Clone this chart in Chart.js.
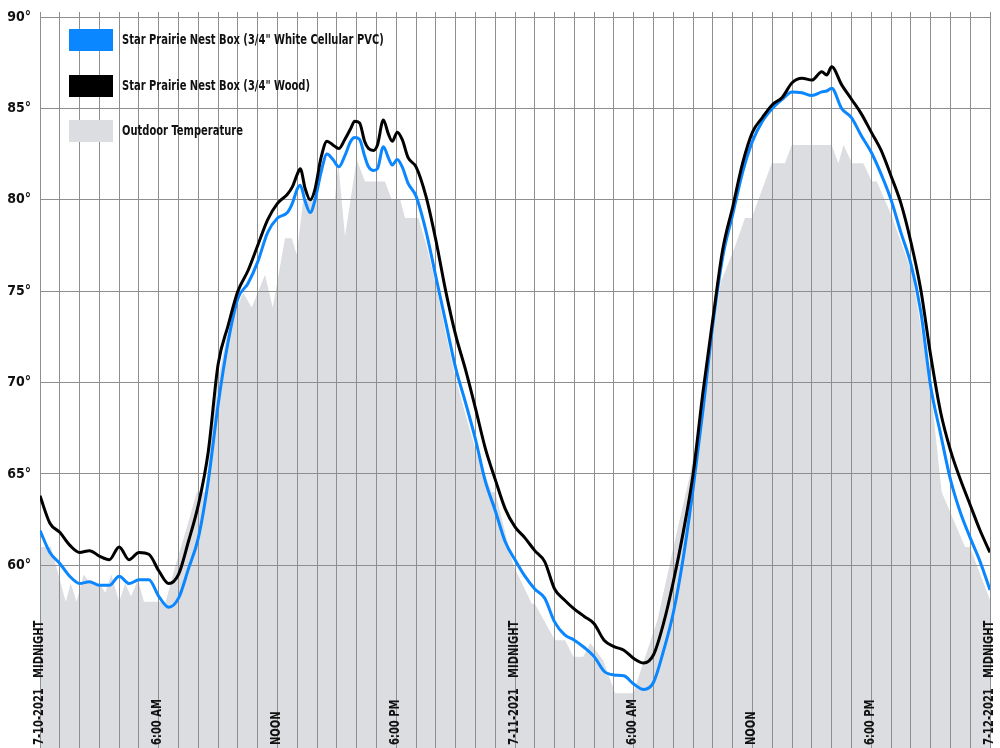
<!DOCTYPE html>
<html>
<head>
<meta charset="utf-8">
<script src="https://cdn.jsdelivr.net/npm/chart.js@4/dist/chart.umd.min.js"></script>
<style>
  html, body { margin: 0; padding: 0; background: #ffffff; }
  #wrap { width: 1000px; height: 748px; position: relative; }
</style>
</head>
<body>
<div id="wrap"><canvas id="c" width="1000" height="748"></canvas></div>
<script>
// ---- DATA ----
const seriesLabels = [
  'Star Prairie Nest Box (3/4" White Cellular PVC)',
  'Star Prairie Nest Box (3/4" Wood)',
  'Outdoor Temperature'
];
// hours since 7-10-2021 midnight (sensor readings)
const hours = [0,0.5,1,1.5,2,2.5,3,3.5,4,4.5,5,5.5,6,6.5,7,7.5,8,8.5,9,9.5,10,10.5,11,11.5,12,12.5,12.75,13,13.15,13.4,13.65,13.9,14.2,14.5,14.8,15.1,15.4,15.7,15.9,16.15,16.4,16.6,16.85,17.05,17.35,17.6,17.8,18.05,18.3,18.6,19,19.5,20,20.5,21,21.5,22,22.5,23,23.5,24,24.5,25,25.5,26,26.5,27,27.5,28,28.5,29,29.5,30,30.5,31,31.5,32,32.5,33,33.5,34,34.5,35,35.5,36,36.5,37,37.5,38,38.5,39,39.5,39.75,40,40.5,41,41.5,42,42.5,43,43.5,44,44.5,45,45.5,46,46.5,47,47.5,48];
const pvcTemps = [61.9,60.7,60.1,59.4,59.0,59.1,58.9,58.9,59.4,59.0,59.2,59.2,58.3,57.7,58.2,59.8,61.5,64.6,68.8,72.2,74.6,75.4,76.6,78.2,79.0,79.3,79.8,80.6,80.8,79.9,79.3,80.0,81.5,82.5,82.2,81.8,82.4,83.2,83.4,83.3,82.4,81.8,81.6,81.7,82.9,82.3,81.9,82.2,81.8,80.9,80.2,78.3,75.8,73.3,70.8,68.9,66.9,64.6,63.0,61.3,60.3,59.4,58.7,58.2,56.9,56.2,55.9,55.5,55.0,54.2,54.0,53.95,53.5,53.2,53.6,55.3,57.4,60.4,64.2,68.5,73.2,76.9,79.2,81.5,83.2,84.3,85.0,85.5,85.9,85.85,85.7,85.9,85.95,86.1,85.0,84.5,83.5,82.6,81.4,80.0,78.2,76.5,73.9,69.8,67.2,64.7,62.9,61.5,60.2,58.65];
const woodTemps = [63.8,62.3,61.8,61.1,60.7,60.8,60.5,60.3,61.0,60.3,60.7,60.6,59.7,59.0,59.5,61.3,63.3,66.2,71.0,73.1,75.0,76.1,77.5,78.9,79.8,80.3,80.7,81.4,81.7,80.6,80.0,80.6,82.3,83.2,83.0,82.8,83.3,83.9,84.3,84.2,83.2,82.8,82.7,83.0,84.37,83.6,83.2,83.7,83.3,82.3,81.8,80.2,77.8,75.0,72.6,70.7,68.6,66.4,64.7,63.1,62.1,61.5,60.8,60.2,58.7,58.1,57.6,57.2,56.8,55.9,55.55,55.35,54.9,54.65,55.1,56.8,59.1,61.8,65.0,69.5,73.5,77.3,79.6,82.0,83.7,84.5,85.2,85.6,86.4,86.65,86.55,87.0,86.83,87.28,86.3,85.5,84.7,83.7,82.7,81.3,79.8,77.7,75.1,71.5,68.4,66.3,64.7,63.3,61.9,60.7];
const outdoorHours = [0,0.55,1.3,1.55,1.85,2.2,2.55,3.0,3.3,3.6,4.0,4.3,4.6,4.95,5.25,6.35,6.85,7.4,7.92,8.34,8.93,9.43,9.94,10.27,10.7,11.37,11.76,12.38,12.72,12.97,13.3,14.9,15.07,15.41,16.0,16.42,17.43,17.77,18.2,18.44,19.12,19.5,20.04,20.5,21.0,21.56,22.07,22.82,23.0,23.92,24.85,25.0,26.02,26.53,26.95,27.45,27.8,28.45,29.06,29.98,30.49,31.2,32.09,32.85,33.35,33.9,34.4,35.1,35.62,35.96,36.97,37.64,37.98,40.0,40.34,40.6,41.03,41.6,42.03,42.28,43.04,44.05,44.97,45.56,46.15,46.74,46.99,48];
const outdoorTemps = [61,61,58,59,58,59.5,59,59,58.5,59.5,58,59,58.3,59.2,58,58,60,62,64,64,69.8,72.5,74.1,74.9,74.1,75.9,74.1,77.9,77.9,77,80,80,82,78,82.2,81,81,80,80,79,79,77.6,75.2,72.7,70.2,68,66.1,64,64,60,57.9,57.9,55.9,55.9,55,55,55.75,54.8,53,53,54.7,57,61.4,65,68,72,75.5,77.4,79,79,82,82,83,83,82,83,82,82,81,81,79.1,76,70,64,62.5,61,61,58.1];
// x tick labels (hour -> label)
const xTickHours = [0,6,12,18,24,30,36,42,48];
const xTickLabels = ['7-10-2021   MIDNIGHT','6:00 AM','NOON','6:00 PM','7-11-2021   MIDNIGHT','6:00 AM','NOON','6:00 PM','7-12-2021   MIDNIGHT'];
const yTickValues = [60,65,70,75,80,85,90];

// ---- STYLE ----
const BLUE = '#0a86ff';
const BLACK = '#000000';
const GRAY_FILL = '#dcdde0';
const GRID = '#8e8e8e';
const FONT = "'Liberation Sans Narrow', 'DejaVu Sans Condensed', sans-serif";
const SQUEEZE = 0.79;

function pts(xs, ys) { return xs.map((x, i) => ({x: x, y: ys[i]})); }

const bottomLabels = {
  id: 'bottomLabels',
  afterDatasetsDraw(chart) {
    const ctx = chart.ctx, xs = chart.scales.x, area = chart.chartArea;
    ctx.save();
    ctx.font = "bold 14px " + FONT;
    ctx.fillStyle = '#111';
    ctx.textAlign = 'left';
    ctx.textBaseline = 'middle';
    xTickHours.forEach((h, i) => {
      const px = xs.getPixelForValue(h);
      ctx.save();
      ctx.translate(px - 1, area.bottom - 3);
      ctx.rotate(-Math.PI / 2);
      ctx.scale(SQUEEZE, 1);
      ctx.fillText(xTickLabels[i], 0, 0);
      ctx.restore();
    });
    ctx.restore();
  }
};

const insideLegend = {
  id: 'insideLegend',
  afterDatasetsDraw(chart) {
    const ctx = chart.ctx;
    const colors = [BLUE, BLACK, GRAY_FILL];
    const tops = [29, 75, 120];
    ctx.save();
    ctx.font = "bold 14px " + FONT;
    ctx.textBaseline = 'middle';
    ctx.textAlign = 'left';
    seriesLabels.forEach((lab, i) => {
      ctx.fillStyle = colors[i];
      ctx.fillRect(69, tops[i], 44, 22);
      ctx.fillStyle = '#111';
      ctx.save();
      ctx.translate(122, tops[i] + 11.5);
      ctx.scale(SQUEEZE, 1);
      ctx.fillText(lab, 0, 0);
      ctx.restore();
    });
    ctx.restore();
  }
};

new Chart(document.getElementById('c'), {
  type: 'line',
  data: {
    datasets: [
      {
        label: seriesLabels[1],
        data: pts(hours, woodTemps),
        borderColor: BLACK,
        borderWidth: 3,
        pointRadius: 0,
        cubicInterpolationMode: 'monotone',
        fill: false,
        order: 0
      },
      {
        label: seriesLabels[0],
        data: pts(hours, pvcTemps),
        borderColor: BLUE,
        borderWidth: 3,
        pointRadius: 0,
        cubicInterpolationMode: 'monotone',
        fill: false,
        order: 1
      },
      {
        label: seriesLabels[2],
        data: pts(outdoorHours, outdoorTemps),
        borderColor: 'rgba(0,0,0,0)',
        borderWidth: 0,
        backgroundColor: GRAY_FILL,
        pointRadius: 0,
        tension: 0,
        fill: 'start',
        order: 2
      }
    ]
  },
  options: {
    responsive: false,
    animation: false,
    devicePixelRatio: 1,
    layout: { padding: { top: 12, right: 10, bottom: 0, left: 0 } },
    plugins: {
      legend: { display: false },
      tooltip: { enabled: false },
      filler: { drawTime: 'beforeDraw' }
    },
    scales: {
      x: {
        type: 'linear',
        position: 'top',
        min: 0,
        max: 48,
        ticks: { display: false, stepSize: 1 },
        grid: { color: GRID, lineWidth: 1, drawTicks: true, tickLength: 5 },
        border: { display: true, color: GRID }
      },
      y: {
        min: 50,
        max: 90,
        afterFit(scale) { scale.width = 40; scale.paddingTop = 0; scale.paddingBottom = 0; },
        afterBuildTicks(scale) {
          scale.ticks = yTickValues.map(v => ({value: v}));
        },
        ticks: {
          padding: 9,
          color: '#111',
          font: { family: FONT, size: 14, weight: 'bold' },
          callback: (v) => v + '°'
        },
        grid: {
          drawTicks: false,
          lineWidth: 1,
          color: GRID
        },
        border: { display: true, color: GRID }
      }
    }
  },
  plugins: [insideLegend, bottomLabels]
});
</script>
</body>
</html>
